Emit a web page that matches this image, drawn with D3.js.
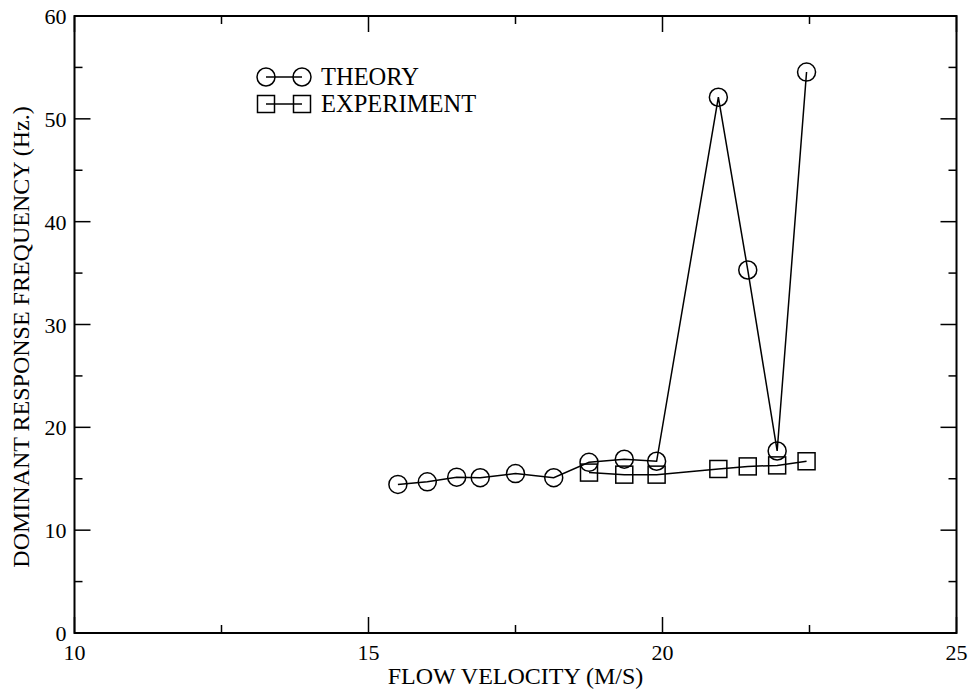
<!DOCTYPE html>
<html><head><meta charset="utf-8">
<script src="https://cdn.jsdelivr.net/npm/d3@7"></script>
<style>body{margin:0;background:#fff}svg{display:block}text{font-family:"Liberation Serif","Times New Roman",serif;fill:#000}</style>
</head><body><svg id="c" width="974" height="693"></svg>
<script>
const theoryX = [15.5, 16.0, 16.5, 16.9, 17.5, 18.15, 18.75, 19.35, 19.9, 20.95, 21.45, 21.95, 22.45];
const theoryY = [14.45, 14.7, 15.15, 15.1, 15.5, 15.1, 16.6, 16.9, 16.7, 52.1, 35.3, 17.7, 54.55];
const expX = [18.75, 19.35, 19.9, 20.95, 21.45, 21.95, 22.45];
const expY = [15.6, 15.4, 15.4, 15.95, 16.2, 16.3, 16.7];
const xTicks = [10, 15, 20, 25];
const yTicks = [0, 10, 20, 30, 40, 50, 60];
const legendLabels = ["THEORY", "EXPERIMENT"];

const svg = d3.select("#c");
const L = 74.5, R = 956.5, T = 16, B = 633;
const x = d3.scaleLinear().domain([10, 25]).range([L, R]);
const y = d3.scaleLinear().domain([0, 60]).range([B, T]);

const g = svg.append("g");
const xMinor = d3.range(10, 25.01, 2.5).filter(v => !xTicks.includes(v));
const yMinor = d3.range(0, 60.01, 5).filter(v => !yTicks.includes(v));
function ticks(vals, len){
  vals.forEach(v=>{
    g.append("line").attr("x1",x(v)).attr("x2",x(v)).attr("y1",B).attr("y2",B-len).attr("stroke","#000").attr("stroke-width",1.5);
    g.append("line").attr("x1",x(v)).attr("x2",x(v)).attr("y1",T).attr("y2",T+len).attr("stroke","#000").attr("stroke-width",1.5);
  });
}
function yt(vals, len){
  vals.forEach(v=>{
    g.append("line").attr("y1",y(v)).attr("y2",y(v)).attr("x1",L).attr("x2",L+len).attr("stroke","#000").attr("stroke-width",1.5);
    g.append("line").attr("y1",y(v)).attr("y2",y(v)).attr("x1",R).attr("x2",R-len).attr("stroke","#000").attr("stroke-width",1.5);
  });
}
ticks(xTicks, 16); ticks(xMinor, 8); yt(yTicks, 16); yt(yMinor, 8);
g.append("rect").attr("x",L).attr("y",T).attr("width",R-L).attr("height",B-T).attr("fill","none").attr("stroke","#000").attr("stroke-width",2);

xTicks.forEach(v=>{
  svg.append("text").attr("x",x(v)).attr("y",B+27).attr("text-anchor","middle").attr("font-size",22).text(v);
});
yTicks.forEach(v=>{
  svg.append("text").attr("x",L-8).attr("y",y(v)+8).attr("text-anchor","end").attr("font-size",22).text(v);
});
svg.append("text").attr("x",515.5).attr("y",684).attr("text-anchor","middle").attr("font-size",24).text("FLOW VELOCITY (M/S)");
svg.append("text").attr("transform",`translate(29,337) rotate(-90)`).attr("text-anchor","middle").attr("font-size",24).text("DOMINANT RESPONSE FREQUENCY (Hz.)");

const line = d3.line().x(d=>x(d[0])).y(d=>y(d[1]));
const tData = theoryX.map((v,i)=>[v,theoryY[i]]);
const eData = expX.map((v,i)=>[v,expY[i]]);
const r = 9, s = 17;

svg.append("path").attr("d",line(eData)).attr("fill","none").attr("stroke","#000").attr("stroke-width",1.5);
svg.selectAll(".sq").data(eData).enter().append("rect")
  .attr("x",d=>x(d[0])-s/2).attr("y",d=>y(d[1])-s/2).attr("width",s).attr("height",s)
  .attr("fill","none").attr("stroke","#000").attr("stroke-width",1.5);
svg.append("path").attr("d",line(tData)).attr("fill","none").attr("stroke","#000").attr("stroke-width",1.5);
svg.selectAll(".ci").data(tData).enter().append("circle")
  .attr("cx",d=>x(d[0])).attr("cy",d=>y(d[1])).attr("r",r)
  .attr("fill","none").attr("stroke","#000").attr("stroke-width",1.5);

const lg = svg.append("g");
const ly = [77, 104];
[0,1].forEach(i=>{
  lg.append("line").attr("x1",266).attr("x2",302).attr("y1",ly[i]).attr("y2",ly[i]).attr("stroke","#000").attr("stroke-width",1.5);
  [266,302].forEach(cx=>{
    if(i===0) lg.append("circle").attr("cx",cx).attr("cy",ly[i]).attr("r",r).attr("fill","none").attr("stroke","#000").attr("stroke-width",1.5);
    else lg.append("rect").attr("x",cx-s/2).attr("y",ly[i]-s/2).attr("width",s).attr("height",s).attr("fill","none").attr("stroke","#000").attr("stroke-width",1.5);
  });
  lg.append("text").attr("x",321).attr("y",ly[i]+8).attr("font-size",24.5).text(legendLabels[i]);
});
</script></body></html>
